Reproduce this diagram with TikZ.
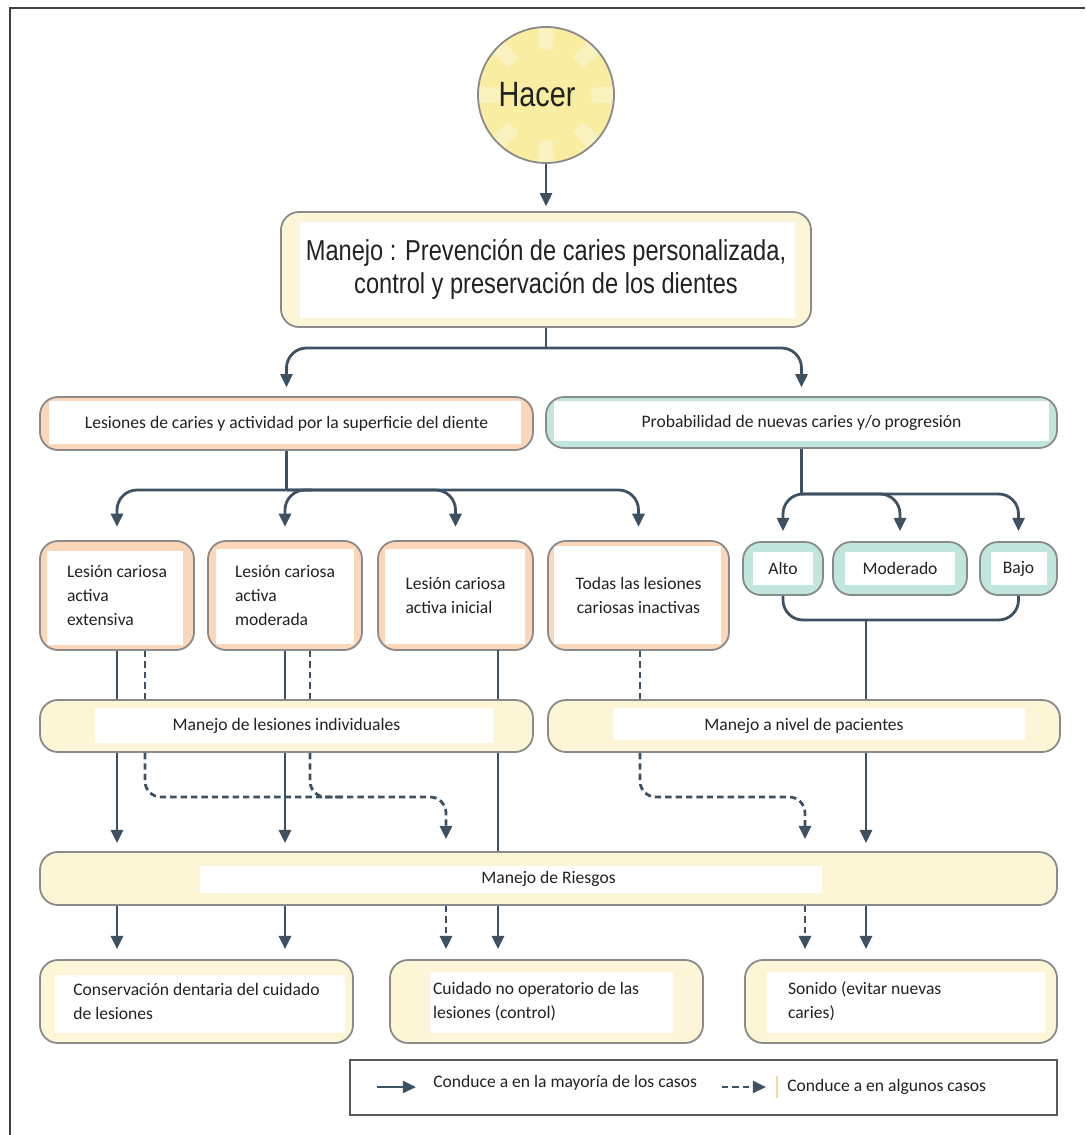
\documentclass[tikz,border=0pt]{standalone}
\usepackage{fontspec}
\setmainfont{Carlito}
\newfontfamily\narrowfont{Liberation Sans}[FakeStretch=0.82]
\usetikzlibrary{arrows.meta}
\definecolor{edge}{HTML}{8A8A8A}
\definecolor{conn}{HTML}{3E5163}
\definecolor{cream}{HTML}{FCF6D6}
\definecolor{peach}{HTML}{FBD6B8}
\definecolor{tealbox}{HTML}{C0E6DD}
\definecolor{gearlt}{HTML}{FAF2BE}
\definecolor{geardk}{HTML}{F8EDA0}
\definecolor{ink}{HTML}{222222}
\definecolor{tanline}{HTML}{F2D9A8}
\newcommand{\smalltxt}{\fontsize{12.5}{17}\selectfont}
\newcommand{\bigtxt}{\narrowfont\fontsize{20.5}{24}\selectfont}
\newcommand{\hugetxt}{\narrowfont\fontsize{25}{30}\selectfont}
\tikzset{
	base/.style={draw=edge, line width=0.45mm, rounded corners=4.5mm, fill=#1, inner sep=0pt, text=ink, font=\smalltxt},
	cbox/.style={base=cream},
	pbox/.style={base=peach, align=flush left},
	tbox/.style={base=tealbox},
	ins/.style n args={4}{path picture={\fill[white, sharp corners] ([xshift=#1*0.25mm, yshift=#4*0.25mm]path picture bounding box.south west) rectangle ([xshift=-#2*0.25mm, yshift=-#3*0.25mm]path picture bounding box.north east);}},
	tooth/.style={path picture={\foreach \a in {0,45,...,315}
		\fill[gearlt, sharp corners] ([shift={(\a-9:11.5mm)}]path picture bounding box.center) -- ([shift={(\a-7:17.5mm)}]path picture bounding box.center)
			-- ([shift={(\a+7:17.5mm)}]path picture bounding box.center) -- ([shift={(\a+9:11.5mm)}]path picture bounding box.center) -- cycle;}},
	link/.style={draw=conn, line width=0.7mm},
	flow/.style={link, -{Triangle[length=3.3mm, width=3mm]}},
	maybe/.style={flow, dash pattern=on 1.6mm off 1mm},
	maybeline/.style={link, dash pattern=on 1.6mm off 1mm}
}
\begin{document}
\begin{tikzpicture}[x=0.25mm, y=-0.25mm]
	\useasboundingbox (0,0) rectangle (1085,1135);
	\draw[black!75, line width=0.45mm] (10,1135) -- (10,8) -- (1085,8);
	% top part
	\node[circle, draw=edge, line width=0.45mm, fill=geardk, tooth, minimum size=34mm, inner sep=0pt, text=ink, font=\hugetxt] (hacer) at (546,95) {Hacer\hspace*{4.5mm}};
	\node[cbox, ins={19}{16}{10}{9}, minimum width=132.5mm, minimum height=28.75mm, align=center, font=\bigtxt] (manejo) at (546,269.5) {Manejo : Prevención de caries personalizada,\\control y preservación de los dientes};
	\node[pbox, ins={9}{12}{4}{6}, minimum width=123.25mm, minimum height=13.25mm] (lesiones) at (286.5,423.5) {Lesiones de caries y actividad por la superficie del diente};
	\node[tbox, ins={8}{8}{4}{7}, minimum width=127.75mm, minimum height=12.75mm] (prob) at (801.5,422.5) {Probabilidad de nuevas caries y/o progresión};
	% lesion boxes
	\node[pbox, ins={7}{11}{10}{5}, minimum width=38.5mm, minimum height=27.25mm] (ext) at (117,595.5) {Lesión cariosa\\activa\\extensiva};
	\node[pbox, ins={8}{8}{8}{6}, minimum width=38.5mm, minimum height=27.25mm] (mod) at (285,595.5) {Lesión cariosa\\activa\\moderada};
	\node[pbox, ins={7}{8}{8}{6}, minimum width=38.75mm, minimum height=27.25mm] (ini) at (455.5,595.5) {Lesión cariosa\\activa inicial};
	\node[pbox, ins={6}{8}{5}{6}, minimum width=45.25mm, minimum height=27.25mm, align=center] (inac) at (638.5,595.5) {Todas las lesiones\\cariosas inactivas};
	\node[tbox, ins={10}{10}{10}{10}, minimum width=20mm, minimum height=13.25mm] (alto) at (783,568.5) {Alto};
	\node[tbox, ins={12}{12}{10}{10}, minimum width=33.5mm, minimum height=13.25mm] (moder) at (900,568.5) {Moderado};
	\node[tbox, ins={11}{10}{10}{10}, minimum width=19.25mm, minimum height=13.25mm] (bajo) at (1018.5,568.5) {Bajo};
	% management boxes
	\node[cbox, ins={55}{40}{8}{9}, minimum width=123.25mm, minimum height=13mm] (indiv) at (286.5,726) {Manejo de lesiones individuales};
	\node[cbox, ins={65}{35}{8}{12}, minimum width=128mm, minimum height=13mm] (pac) at (804,726) {Manejo a nivel de pacientes};
	\node[cbox, ins={160}{235}{14}{12}, minimum width=254.25mm, minimum height=13.25mm] (riesgos) at (548.5,878.5) {Manejo de Riesgos};
	\node[cbox, ins={15}{8}{15}{10}, minimum width=78.25mm, minimum height=20.75mm, align=flush left] (cons) at (196.5,1001.5) {Conservación dentaria del cuidado\\de lesiones};
	\node[cbox, ins={40}{30}{12}{10}, minimum width=78.25mm, minimum height=20.75mm, align=flush left, text width=56.75mm] (cuid) at (546.5,1001.5) {Cuidado no operatorio de las\\lesiones (control)};
	\node[cbox, ins={22}{12}{12}{10}, minimum width=78mm, minimum height=20.75mm, align=flush left, text width=56.5mm] (sonido) at (901,1001.5) {Sonido (evitar nuevas\\caries)};
	% legend
	\node[draw=black!65, line width=0.5mm, fill=white, minimum width=176.75mm, minimum height=13.75mm, inner sep=0pt] (legend) at (703.5,1087.5) {};
	\node[anchor=west, inner sep=0pt, font=\smalltxt, text=ink] (lt1) at (433,1083) {Conduce a en la mayoría de los casos};
	\node[anchor=west, inner sep=0pt, font=\smalltxt, text=ink] (lt2) at (787,1087) {Conduce a en algunos casos};
	\coordinate (ls1) at (377,1087);
	\coordinate (le1) at (416,1087);
	\coordinate (ls2) at (722,1087);
	\coordinate (le2) at (766,1087);
	\draw[flow] (ls1) -- (le1);
	\draw[maybe] (ls2) -- (le2);
	\draw[tanline, line width=0.3mm] (777,1076) -- (777,1098);

	% connectors
	\draw[flow, shorten >=1.2mm] (hacer.south) -- (manejo.north);
	\coordinate (j1) at (546,348);
	\draw[link] (manejo.south) -- (j1);
	\draw[flow, rounded corners=5mm, shorten >=2.2mm] (j1) -| (lesiones.north);
	\draw[flow, rounded corners=5mm, shorten >=2.2mm] (j1) -| (prob.north);

	\coordinate (j2) at (286.5,490);
	\coordinate (j2r) at (312,490);
	\draw[link] (lesiones.south) -- (j2);
	\foreach \n in {ext,ini,inac}
		\draw[flow, rounded corners=5mm, shorten >=3.3mm] (j2) -| (\n.north);
	\draw[flow, rounded corners=5mm, shorten >=3.3mm] (j2r) -| (mod.north);

	\coordinate (j3) at (801.5,494);
	\draw[link] (prob.south) -- (j3);
	\foreach \n in {alto,moder,bajo}
		\draw[flow, rounded corners=5mm, shorten >=2.5mm] (j3) -| (\n.north);

	\coordinate (j4) at (866,620);
	\draw[link, rounded corners=5mm] (alto.south) |- (j4) -| (bajo.south);
	\draw[link] (j4) -- (j4 |- pac.north);
	\draw[flow, shorten >=2mm] (j4 |- pac.south) -- (j4 |- riesgos.north);
	\draw[flow, shorten >=2.5mm] (j4 |- riesgos.south) -- (j4 |- sonido.north);

	\foreach \n in {ext,mod} {
		\draw[link] (\n.south) -- (\n.south |- indiv.north);
		\draw[flow, shorten >=2mm] (\n.south |- indiv.south) -- (\n.south |- riesgos.north);
		\draw[flow, shorten >=2.5mm] (\n.south |- riesgos.south) -- (\n.south |- cons.north);
	}
	\coordinate (xi) at (498,650);
	\draw[link] (xi) -- (xi |- indiv.north);
	\draw[link] (xi |- indiv.south) -- (xi |- riesgos.north);
	\draw[flow, shorten >=2.5mm] (xi |- riesgos.south) -- (xi |- cuid.north);

	% dashed paths
	\coordinate (dx1) at (145,797);
	\coordinate (dx2) at (310,797);
	\coordinate (dx2b) at (345,797);
	\coordinate (dx3) at (446,797);
	\coordinate (dx4) at (640,797);
	\coordinate (dx5) at (805,797);
	\draw[maybeline] (dx1 |- ext.south) -- (dx1 |- indiv.north);
	\draw[maybeline] (dx2 |- mod.south) -- (dx2 |- indiv.north);
	\draw[maybeline] (dx4 |- inac.south) -- (dx4 |- pac.north);
	\draw[maybe, rounded corners=4mm, shorten >=3mm] (dx1 |- indiv.south) -- (dx1) -- (dx3) -- (dx3 |- riesgos.north);
	\draw[maybeline, rounded corners=4mm] (dx2 |- indiv.south) |- (dx2b);
	\draw[maybe, rounded corners=4mm, shorten >=3mm] (dx4 |- pac.south) |- (dx5) -- (dx5 |- riesgos.north);
	\draw[maybe, shorten >=2.5mm] (dx3 |- riesgos.south) -- (dx3 |- cuid.north);
	\draw[maybe, shorten >=2.5mm] (dx5 |- riesgos.south) -- (dx5 |- sonido.north);
\end{tikzpicture}
\end{document}
